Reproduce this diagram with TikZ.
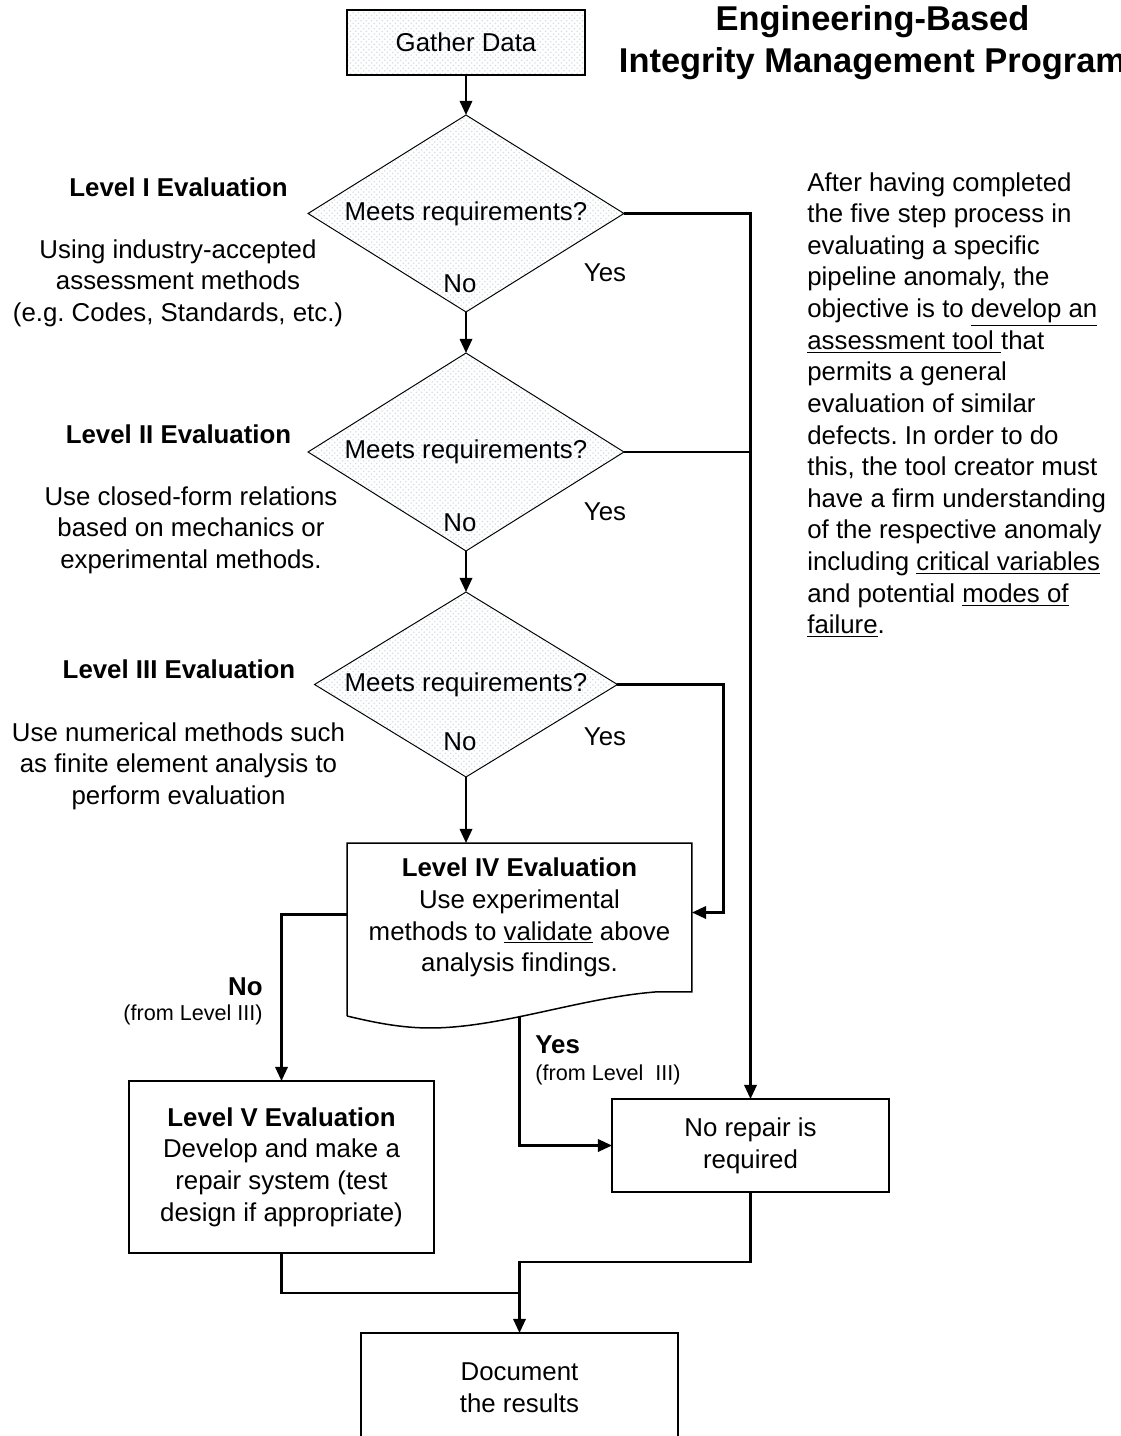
\documentclass[tikz,border=0pt]{standalone}
\usepackage{fontspec}
\setmainfont{Liberation Sans}
\usepackage{tikz}
\usetikzlibrary{shapes.geometric, arrows.meta, positioning, calc, patterns}

\definecolor{dotCol}{RGB}{212, 222, 226}
\newcommand{\mainsize}{\fontsize{14.7}{18}\selectfont}
\newcommand{\notesize}{\fontsize{12.3}{15}\selectfont}
\newcommand{\titlesize}{\fontsize{19.6}{23.8}\selectfont}
\frenchspacing

\begin{document}
\begin{tikzpicture}[x=0.02cm, y=-0.02cm,
    every node/.style={font=\mainsize},
    box/.style={draw, line width=0.85pt, rectangle, align=center, inner sep=0pt, outer sep=0pt},
    dotbox/.style={box, pattern=crosshatch dots, pattern color=dotCol},
    decision/.style={diamond, draw, line width=0.55pt, inner sep=0pt, outer sep=0pt, aspect=1.6,
        pattern=crosshatch dots, pattern color=dotCol},
    conn/.style={line width=1.35pt, -{Triangle[length=8pt,width=7pt]}},
    wire/.style={line width=1.35pt},
    head/.style={font=\mainsize\bfseries},
    note/.style={font=\notesize}
]
    \useasboundingbox (0,0) rectangle (1120,1436);
    \clip (0,0) rectangle (1120,1436);

    % --- Title ---
    \node[font=\titlesize\bfseries, align=center] (title) at (872.5,43) {Engineering-Based\\Integrity Management Program};

    % --- Main chain ---
    \node[dotbox, minimum width=4.76cm, minimum height=1.3cm] (gather) at (466,42.5) {Gather Data};
    \node[decision, minimum width=6.32cm, minimum height=3.94cm] (dec1) at (466,213.5) {Meets requirements?};
    \node[decision, minimum width=6.32cm, minimum height=3.96cm] (dec2) at (466,452) {Meets requirements?};
    \node[decision, minimum width=6.06cm, minimum height=3.7cm] (dec3) at (466,684.5) {Meets requirements?};

    % Level IV (document shape)
    \node[inner sep=0pt, outer sep=0pt, minimum width=6.9cm, minimum height=2.98cm, align=center] (lvfour) at (519.5,917.5)
        {\textbf{Level IV Evaluation}\\Use experimental\\methods to \underline{validate} above\\analysis findings.};
    \coordinate (ivwave) at ($(lvfour.south west)+(0,24)$);
    \coordinate (ivout) at ($(lvfour.south)+(0,24)$);
    \coordinate (ivin) at ($(lvfour.east)+(0,-5)$);
    \draw[line width=0.85pt, line join=miter] (ivwave) -- (lvfour.north west) -- (lvfour.north east) -- (lvfour.south east)
        -- ++(-37,0) .. controls +(-75,6) and +(70,0) .. ++(-225,36)
        .. controls +(-30,0) and +(25,6) .. (ivwave);

    \node[box, minimum width=6.1cm, minimum height=3.44cm] (lvfive) at (281.5,1167)
        {\textbf{Level V Evaluation}\\Develop and make a\\repair system (test\\design if appropriate)};
    \node[box, minimum width=5.54cm, minimum height=1.86cm] (norep) at (750.5,1145.5) {No repair is\\required};
    \node[box, anchor=north, minimum width=6.34cm, minimum height=2.18cm] (docres) at (519.5,1333) {Document\\the results};

    % --- Yes / No labels ---
    \node (no1) at (460,284) {No};
    \node (yes1) at (605,273) {Yes};
    \node (no2) at (460,523) {No};
    \node (yes2) at (605,512) {Yes};
    \node (no3) at (460,742) {No};
    \node (yes3) at (605,737) {Yes};
    \node[head, anchor=east, inner sep=0pt] (nofour) at (263,987) {No};
    \node[note, anchor=east, inner sep=0pt] (nofournote) at (263,1015) {(from Level III)};
    \node[head, anchor=west, inner sep=0pt] (yesfour) at (535,1045) {Yes};
    \node[note, anchor=west, inner sep=0pt] (yesfournote) at (535,1075) {(from Level\ \ III)};

    % --- Connectors ---
    \draw[conn] (gather) -- (dec1);
    \draw[conn] (dec1) -- (dec2);
    \draw[conn] (dec2) -- (dec3);
    \draw[conn] (dec3.south) -- (dec3.south |- lvfour.north);
    \draw[conn] (dec1.east) -| (norep.north);
    \draw[wire] (dec2.east) -- (dec2.east -| norep.north);
    \draw[conn] (dec3.east) -- ++(106,0) |- (ivin);
    \draw[conn] ($(lvfour.west)+(0,-3)$) -| (lvfive.north);
    \draw[conn] (ivout) |- (norep.west);
    \draw[wire] (lvfive.south) |- ($(docres.north)+(0,-40)$);
    \draw[conn] (norep.south) -- ++(0,70) -| (docres.north);

    % --- Level descriptions ---
    \node[head] (lvonehead) at (178.5,187) {Level I Evaluation};
    \node[align=center] (lvonetext) at (178,283) {Using industry-accepted\\assessment methods\\(e.g. Codes, Standards, etc.)};
    \node[head] (lvtwohead) at (178.5,434) {Level II Evaluation};
    \node[align=center] (lvtwotext) at (191,530) {Use closed-form relations\\based on mechanics or\\experimental methods.};
    \node[head] (lvthreehead) at (179,669) {Level III Evaluation};
    \node[align=center] (lvthreetext) at (178.5,766) {Use numerical methods such\\as finite element analysis to\\perform evaluation};

    % --- Side note ---
    \node[anchor=north west, inner sep=0pt, align=left] (sidenote) at (807,172)
        {After having completed\\the five step process in\\evaluating a specific\\pipeline anomaly, the\\
         objective is to \underline{develop an}\\\underline{assessment tool\ }that\\permits a general\\
         evaluation of similar\\defects. In order to do\\this, the tool creator must\\have a firm understanding\\
         of the respective anomaly\\including \underline{critical variables}\\and potential \underline{modes of}\\
         \underline{failure}.};
\end{tikzpicture}
\end{document}
